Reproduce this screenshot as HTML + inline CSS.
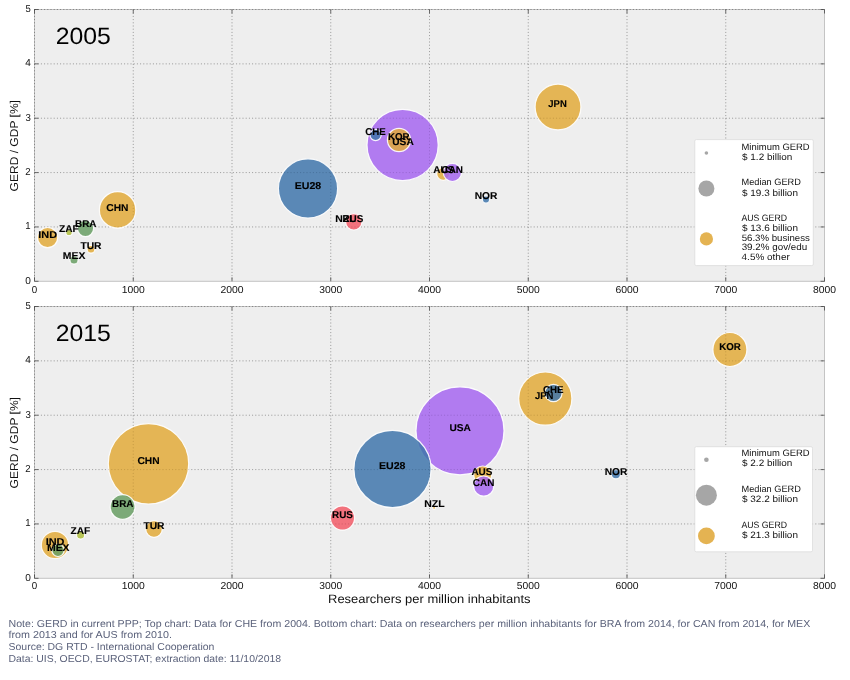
<!DOCTYPE html>
<html>
<head>
<meta charset="utf-8">
<title>GERD / GDP vs Researchers per million inhabitants</title>
<style>
html,body{margin:0;padding:0;background:#ffffff;}
body{width:850px;height:680px;overflow:hidden;font-family:"Liberation Sans",sans-serif;}
svg{display:block;will-change:transform;}
text{font-family:"Liberation Sans",sans-serif;text-rendering:geometricPrecision;}
.tick{fill:#111;}
.lbl{font-weight:bold;fill:#000;stroke:#000;stroke-width:0.12;}
.leg{fill:#111;}
.year{fill:#000;}
.axl{fill:#111;}
.note{fill:#5b627b;}
.grid{stroke:#000;stroke-opacity:0.36;stroke-width:0.8;stroke-dasharray:1 2.2;fill:none;}
.grid2{stroke:#000;stroke-opacity:0.12;stroke-width:0.8;stroke-dasharray:1 2.2;fill:none;}
.spine{stroke:#c4c4c4;stroke-width:1;fill:none;}
.tk{stroke:#333;stroke-width:0.7;fill:none;}
</style>
</head>
<body>
<svg width="850" height="680" viewBox="0 0 850 680">
<rect x="0" y="0" width="850" height="680" fill="#ffffff"/>

<rect x="34.5" y="9.5" width="790.0" height="271.80" fill="#eeeeee"/>
<rect class="spine" x="34.5" y="9.5" width="790.0" height="271.80"/>
<line class="grid" x1="34.50" y1="9.5" x2="34.50" y2="281.3"/>
<line class="grid" x1="133.25" y1="9.5" x2="133.25" y2="281.3"/>
<line class="grid" x1="232.00" y1="9.5" x2="232.00" y2="281.3"/>
<line class="grid" x1="330.75" y1="9.5" x2="330.75" y2="281.3"/>
<line class="grid" x1="429.50" y1="9.5" x2="429.50" y2="281.3"/>
<line class="grid" x1="528.25" y1="9.5" x2="528.25" y2="281.3"/>
<line class="grid" x1="627.00" y1="9.5" x2="627.00" y2="281.3"/>
<line class="grid" x1="725.75" y1="9.5" x2="725.75" y2="281.3"/>
<line class="grid" x1="34.5" y1="226.94" x2="824.5" y2="226.94"/>
<line class="grid" x1="34.5" y1="172.58" x2="824.5" y2="172.58"/>
<line class="grid" x1="34.5" y1="118.22" x2="824.5" y2="118.22"/>
<line class="grid" x1="34.5" y1="63.86" x2="824.5" y2="63.86"/>
<line class="grid" x1="34.5" y1="9.50" x2="824.5" y2="9.50"/>
<circle cx="402.6" cy="145.0" r="35.60" fill="#A666F0" fill-opacity="0.85" stroke="#ffffff" stroke-opacity="0.9" stroke-width="1.2"/>
<circle cx="558.0" cy="107.0" r="22.90" fill="#E2AA3A" fill-opacity="0.85" stroke="#ffffff" stroke-opacity="0.9" stroke-width="1.2"/>
<circle cx="308.0" cy="188.4" r="29.60" fill="#4076AB" fill-opacity="0.85" stroke="#ffffff" stroke-opacity="0.9" stroke-width="1.2"/>
<circle cx="117.6" cy="209.9" r="18.20" fill="#E2AA3A" fill-opacity="0.85" stroke="#ffffff" stroke-opacity="0.9" stroke-width="1.2"/>
<circle cx="399.0" cy="140.0" r="11.60" fill="#E2AA3A" fill-opacity="0.85" stroke="#ffffff" stroke-opacity="0.9" stroke-width="1.2"/>
<circle cx="47.6" cy="237.6" r="10.10" fill="#E2AA3A" fill-opacity="0.85" stroke="#ffffff" stroke-opacity="0.9" stroke-width="1.2"/>
<circle cx="443.2" cy="173.8" r="6.50" fill="#E2AA3A" fill-opacity="0.85" stroke="#ffffff" stroke-opacity="0.9" stroke-width="1.2"/>
<circle cx="452.4" cy="172.4" r="9.10" fill="#A666F0" fill-opacity="0.85" stroke="#ffffff" stroke-opacity="0.9" stroke-width="1.2"/>
<circle cx="85.5" cy="228.5" r="8.10" fill="#679E63" fill-opacity="0.85" stroke="#ffffff" stroke-opacity="0.9" stroke-width="1.2"/>
<circle cx="353.8" cy="221.8" r="8.20" fill="#F25C68" fill-opacity="0.85" stroke="#ffffff" stroke-opacity="0.9" stroke-width="1.2"/>
<circle cx="375.6" cy="135.0" r="5.60" fill="#4076AB" fill-opacity="0.85" stroke="#ffffff" stroke-opacity="0.9" stroke-width="1.2"/>
<circle cx="74.0" cy="260.0" r="4.10" fill="#679E63" fill-opacity="0.85" stroke="#ffffff" stroke-opacity="0.9" stroke-width="1.2"/>
<circle cx="91.0" cy="249.2" r="3.90" fill="#E2AA3A" fill-opacity="0.85" stroke="#ffffff" stroke-opacity="0.9" stroke-width="1.2"/>
<circle cx="69.0" cy="232.5" r="3.20" fill="#AEBD3C" fill-opacity="0.85" stroke="#ffffff" stroke-opacity="0.9" stroke-width="1.2"/>
<circle cx="486.0" cy="199.6" r="3.60" fill="#4076AB" fill-opacity="0.85" stroke="#ffffff" stroke-opacity="0.9" stroke-width="1.2"/>
<circle cx="345.4" cy="219.5" r="1.60" fill="#E2AA3A" fill-opacity="0.85" stroke="#ffffff" stroke-opacity="0.9" stroke-width="1.2"/>
<line class="grid2" x1="34.50" y1="9.5" x2="34.50" y2="281.3"/>
<line class="grid2" x1="133.25" y1="9.5" x2="133.25" y2="281.3"/>
<line class="grid2" x1="232.00" y1="9.5" x2="232.00" y2="281.3"/>
<line class="grid2" x1="330.75" y1="9.5" x2="330.75" y2="281.3"/>
<line class="grid2" x1="429.50" y1="9.5" x2="429.50" y2="281.3"/>
<line class="grid2" x1="528.25" y1="9.5" x2="528.25" y2="281.3"/>
<line class="grid2" x1="627.00" y1="9.5" x2="627.00" y2="281.3"/>
<line class="grid2" x1="725.75" y1="9.5" x2="725.75" y2="281.3"/>
<line class="grid2" x1="34.5" y1="226.94" x2="824.5" y2="226.94"/>
<line class="grid2" x1="34.5" y1="172.58" x2="824.5" y2="172.58"/>
<line class="grid2" x1="34.5" y1="118.22" x2="824.5" y2="118.22"/>
<line class="grid2" x1="34.5" y1="63.86" x2="824.5" y2="63.86"/>
<line class="grid2" x1="34.5" y1="9.50" x2="824.5" y2="9.50"/>
<line class="tk" x1="34.50" y1="281.3" x2="34.50" y2="277.3"/>
<line class="tk" x1="34.50" y1="9.5" x2="34.50" y2="13.5"/>
<text class="tick" x="34.50" y="292.60" font-size="10.09" text-anchor="middle" textLength="5.45" lengthAdjust="spacingAndGlyphs">0</text>
<line class="tk" x1="133.25" y1="281.3" x2="133.25" y2="277.3"/>
<line class="tk" x1="133.25" y1="9.5" x2="133.25" y2="13.5"/>
<text class="tick" x="133.28" y="292.60" font-size="10.09" text-anchor="middle" textLength="23.03" lengthAdjust="spacingAndGlyphs">1000</text>
<line class="tk" x1="232.00" y1="281.3" x2="232.00" y2="277.3"/>
<line class="tk" x1="232.00" y1="9.5" x2="232.00" y2="13.5"/>
<text class="tick" x="231.99" y="292.60" font-size="10.09" text-anchor="middle" textLength="23.09" lengthAdjust="spacingAndGlyphs">2000</text>
<line class="tk" x1="330.75" y1="281.3" x2="330.75" y2="277.3"/>
<line class="tk" x1="330.75" y1="9.5" x2="330.75" y2="13.5"/>
<text class="tick" x="330.80" y="292.60" font-size="10.09" text-anchor="middle" textLength="22.99" lengthAdjust="spacingAndGlyphs">3000</text>
<line class="tk" x1="429.50" y1="281.3" x2="429.50" y2="277.3"/>
<line class="tk" x1="429.50" y1="9.5" x2="429.50" y2="13.5"/>
<text class="tick" x="429.50" y="292.60" font-size="10.09" text-anchor="middle" textLength="23.06" lengthAdjust="spacingAndGlyphs">4000</text>
<line class="tk" x1="528.25" y1="281.3" x2="528.25" y2="277.3"/>
<line class="tk" x1="528.25" y1="9.5" x2="528.25" y2="13.5"/>
<text class="tick" x="528.30" y="292.60" font-size="10.09" text-anchor="middle" textLength="22.99" lengthAdjust="spacingAndGlyphs">5000</text>
<line class="tk" x1="627.00" y1="281.3" x2="627.00" y2="277.3"/>
<line class="tk" x1="627.00" y1="9.5" x2="627.00" y2="13.5"/>
<text class="tick" x="626.97" y="292.60" font-size="10.09" text-anchor="middle" textLength="23.14" lengthAdjust="spacingAndGlyphs">6000</text>
<line class="tk" x1="725.75" y1="281.3" x2="725.75" y2="277.3"/>
<line class="tk" x1="725.75" y1="9.5" x2="725.75" y2="13.5"/>
<text class="tick" x="725.77" y="292.60" font-size="10.09" text-anchor="middle" textLength="23.05" lengthAdjust="spacingAndGlyphs">7000</text>
<line class="tk" x1="824.50" y1="281.3" x2="824.50" y2="277.3"/>
<line class="tk" x1="824.50" y1="9.5" x2="824.50" y2="13.5"/>
<text class="tick" x="824.50" y="292.60" font-size="10.09" text-anchor="middle" textLength="23.09" lengthAdjust="spacingAndGlyphs">8000</text>
<line class="tk" x1="34.5" y1="281.30" x2="38.5" y2="281.30"/>
<line class="tk" x1="824.5" y1="281.30" x2="820.5" y2="281.30"/>
<text class="tick" x="30.89" y="283.70" font-size="10.09" text-anchor="end" textLength="5.62" lengthAdjust="spacingAndGlyphs">0</text>
<line class="tk" x1="34.5" y1="226.94" x2="38.5" y2="226.94"/>
<line class="tk" x1="824.5" y1="226.94" x2="820.5" y2="226.94"/>
<text class="tick" x="30.72" y="229.34" font-size="10.09" text-anchor="end" textLength="5.35" lengthAdjust="spacingAndGlyphs">1</text>
<line class="tk" x1="34.5" y1="172.58" x2="38.5" y2="172.58"/>
<line class="tk" x1="824.5" y1="172.58" x2="820.5" y2="172.58"/>
<text class="tick" x="30.63" y="174.98" font-size="10.09" text-anchor="end" textLength="5.34" lengthAdjust="spacingAndGlyphs">2</text>
<line class="tk" x1="34.5" y1="118.22" x2="38.5" y2="118.22"/>
<line class="tk" x1="824.5" y1="118.22" x2="820.5" y2="118.22"/>
<text class="tick" x="30.78" y="120.62" font-size="10.09" text-anchor="end" textLength="5.40" lengthAdjust="spacingAndGlyphs">3</text>
<line class="tk" x1="34.5" y1="63.86" x2="38.5" y2="63.86"/>
<line class="tk" x1="824.5" y1="63.86" x2="820.5" y2="63.86"/>
<text class="tick" x="30.88" y="66.26" font-size="10.09" text-anchor="end" textLength="5.60" lengthAdjust="spacingAndGlyphs">4</text>
<line class="tk" x1="34.5" y1="9.50" x2="38.5" y2="9.50"/>
<line class="tk" x1="824.5" y1="9.50" x2="820.5" y2="9.50"/>
<text class="tick" x="30.67" y="11.90" font-size="10.09" text-anchor="end" textLength="5.28" lengthAdjust="spacingAndGlyphs">5</text>
<g transform="translate(18.0 145.70) rotate(-90)">
<text class="axl" x="-0.03" y="0.00" font-size="11.37" text-anchor="middle" textLength="91.32" lengthAdjust="spacingAndGlyphs">GERD / GDP [%]</text>
</g>
<text class="year" x="55.73" y="43.90" font-size="23.58" textLength="55.17" lengthAdjust="spacingAndGlyphs">2005</text>
<text class="lbl" x="403.02" y="145.00" font-size="9.88" text-anchor="middle" textLength="21.43" lengthAdjust="spacingAndGlyphs">USA</text>
<text class="lbl" x="557.56" y="107.00" font-size="9.88" text-anchor="middle" textLength="18.48" lengthAdjust="spacingAndGlyphs">JPN</text>
<text class="lbl" x="307.95" y="188.60" font-size="9.88" text-anchor="middle" textLength="26.46" lengthAdjust="spacingAndGlyphs">EU28</text>
<text class="lbl" x="117.44" y="210.60" font-size="9.88" text-anchor="middle" textLength="22.15" lengthAdjust="spacingAndGlyphs">CHN</text>
<text class="lbl" x="398.72" y="140.00" font-size="9.88" text-anchor="middle" textLength="21.68" lengthAdjust="spacingAndGlyphs">KOR</text>
<text class="lbl" x="47.67" y="238.00" font-size="9.88" text-anchor="middle" textLength="18.84" lengthAdjust="spacingAndGlyphs">IND</text>
<text class="lbl" x="443.73" y="172.60" font-size="9.88" text-anchor="middle" textLength="21.02" lengthAdjust="spacingAndGlyphs">AUS</text>
<text class="lbl" x="452.25" y="172.60" font-size="9.88" text-anchor="middle" textLength="21.57" lengthAdjust="spacingAndGlyphs">CAN</text>
<text class="lbl" x="85.80" y="226.80" font-size="9.88" text-anchor="middle" textLength="21.46" lengthAdjust="spacingAndGlyphs">BRA</text>
<text class="lbl" x="352.92" y="221.60" font-size="9.88" text-anchor="middle" textLength="20.86" lengthAdjust="spacingAndGlyphs">RUS</text>
<text class="lbl" x="375.47" y="134.60" font-size="9.88" text-anchor="middle" textLength="20.55" lengthAdjust="spacingAndGlyphs">CHE</text>
<text class="lbl" x="74.05" y="259.40" font-size="9.88" text-anchor="middle" textLength="22.56" lengthAdjust="spacingAndGlyphs">MEX</text>
<text class="lbl" x="90.99" y="248.60" font-size="9.88" text-anchor="middle" textLength="21.14" lengthAdjust="spacingAndGlyphs">TUR</text>
<text class="lbl" x="68.85" y="232.00" font-size="9.88" text-anchor="middle" textLength="19.76" lengthAdjust="spacingAndGlyphs">ZAF</text>
<text class="lbl" x="486.10" y="199.20" font-size="9.88" text-anchor="middle" textLength="22.70" lengthAdjust="spacingAndGlyphs">NOR</text>
<text class="lbl" x="345.49" y="221.60" font-size="9.88" text-anchor="middle" textLength="20.33" lengthAdjust="spacingAndGlyphs">NZL</text>
<rect x="694.8" y="139.6" width="118.50" height="126.00" rx="1.5" ry="1.5" fill="#ffffff" stroke="#d8d8d8" stroke-width="0.7"/>
<circle cx="706.4" cy="153" r="1.8" fill="#a6a6a6"/>
<circle cx="706.4" cy="188.5" r="8" fill="#a6a6a6"/>
<circle cx="706.4" cy="238.9" r="6.6" fill="#E4B352"/>
<text class="leg" x="741.52" y="149.60" font-size="9.27" textLength="68.12" lengthAdjust="spacingAndGlyphs">Minimum GERD</text>
<text class="leg" x="742.04" y="159.70" font-size="9.27" textLength="50.37" lengthAdjust="spacingAndGlyphs">$ 1.2 billion</text>
<text class="leg" x="741.54" y="185.40" font-size="9.27" textLength="59.35" lengthAdjust="spacingAndGlyphs">Median GERD</text>
<text class="leg" x="742.04" y="195.60" font-size="9.27" textLength="55.92" lengthAdjust="spacingAndGlyphs">$ 19.3 billion</text>
<text class="leg" x="741.44" y="221.20" font-size="9.27" textLength="45.60" lengthAdjust="spacingAndGlyphs">AUS GERD</text>
<text class="leg" x="742.04" y="231.10" font-size="9.27" textLength="55.92" lengthAdjust="spacingAndGlyphs">$ 13.6 billion</text>
<text class="leg" x="741.67" y="240.80" font-size="9.27" textLength="68.16" lengthAdjust="spacingAndGlyphs">56.3% business</text>
<text class="leg" x="741.66" y="250.40" font-size="9.27" textLength="65.57" lengthAdjust="spacingAndGlyphs">39.2% gov/edu</text>
<text class="leg" x="741.59" y="259.80" font-size="9.27" textLength="48.17" lengthAdjust="spacingAndGlyphs">4.5% other</text>
<rect x="34.5" y="306.5" width="790.0" height="271.80" fill="#eeeeee"/>
<rect class="spine" x="34.5" y="306.5" width="790.0" height="271.80"/>
<line class="grid" x1="34.50" y1="306.5" x2="34.50" y2="578.3"/>
<line class="grid" x1="133.25" y1="306.5" x2="133.25" y2="578.3"/>
<line class="grid" x1="232.00" y1="306.5" x2="232.00" y2="578.3"/>
<line class="grid" x1="330.75" y1="306.5" x2="330.75" y2="578.3"/>
<line class="grid" x1="429.50" y1="306.5" x2="429.50" y2="578.3"/>
<line class="grid" x1="528.25" y1="306.5" x2="528.25" y2="578.3"/>
<line class="grid" x1="627.00" y1="306.5" x2="627.00" y2="578.3"/>
<line class="grid" x1="725.75" y1="306.5" x2="725.75" y2="578.3"/>
<line class="grid" x1="34.5" y1="523.94" x2="824.5" y2="523.94"/>
<line class="grid" x1="34.5" y1="469.58" x2="824.5" y2="469.58"/>
<line class="grid" x1="34.5" y1="415.22" x2="824.5" y2="415.22"/>
<line class="grid" x1="34.5" y1="360.86" x2="824.5" y2="360.86"/>
<line class="grid" x1="34.5" y1="306.50" x2="824.5" y2="306.50"/>
<circle cx="460.0" cy="430.8" r="44.00" fill="#A666F0" fill-opacity="0.85" stroke="#ffffff" stroke-opacity="0.9" stroke-width="1.2"/>
<circle cx="148.5" cy="463.8" r="40.20" fill="#E2AA3A" fill-opacity="0.85" stroke="#ffffff" stroke-opacity="0.9" stroke-width="1.2"/>
<circle cx="392.5" cy="469.0" r="38.60" fill="#4076AB" fill-opacity="0.85" stroke="#ffffff" stroke-opacity="0.9" stroke-width="1.2"/>
<circle cx="545.3" cy="398.6" r="26.60" fill="#E2AA3A" fill-opacity="0.85" stroke="#ffffff" stroke-opacity="0.9" stroke-width="1.2"/>
<circle cx="729.9" cy="349.5" r="17.00" fill="#E2AA3A" fill-opacity="0.85" stroke="#ffffff" stroke-opacity="0.9" stroke-width="1.2"/>
<circle cx="55.0" cy="545.0" r="13.70" fill="#E2AA3A" fill-opacity="0.85" stroke="#ffffff" stroke-opacity="0.9" stroke-width="1.2"/>
<circle cx="122.6" cy="507.0" r="12.40" fill="#679E63" fill-opacity="0.85" stroke="#ffffff" stroke-opacity="0.9" stroke-width="1.2"/>
<circle cx="342.5" cy="518.0" r="12.10" fill="#F25C68" fill-opacity="0.85" stroke="#ffffff" stroke-opacity="0.9" stroke-width="1.2"/>
<circle cx="482.7" cy="475.0" r="9.00" fill="#E2AA3A" fill-opacity="0.85" stroke="#ffffff" stroke-opacity="0.9" stroke-width="1.2"/>
<circle cx="483.7" cy="486.1" r="10.10" fill="#A666F0" fill-opacity="0.85" stroke="#ffffff" stroke-opacity="0.9" stroke-width="1.2"/>
<circle cx="553.5" cy="393.0" r="8.60" fill="#4076AB" fill-opacity="0.85" stroke="#ffffff" stroke-opacity="0.9" stroke-width="1.2"/>
<circle cx="154.0" cy="529.0" r="8.30" fill="#E2AA3A" fill-opacity="0.85" stroke="#ffffff" stroke-opacity="0.9" stroke-width="1.2"/>
<circle cx="58.0" cy="550.3" r="6.20" fill="#679E63" fill-opacity="0.85" stroke="#ffffff" stroke-opacity="0.9" stroke-width="1.2"/>
<circle cx="80.6" cy="535.0" r="4.10" fill="#AEBD3C" fill-opacity="0.85" stroke="#ffffff" stroke-opacity="0.9" stroke-width="1.2"/>
<circle cx="615.9" cy="474.2" r="4.60" fill="#4076AB" fill-opacity="0.85" stroke="#ffffff" stroke-opacity="0.9" stroke-width="1.2"/>
<circle cx="434.1" cy="507.8" r="1.50" fill="#E2AA3A" fill-opacity="0.85" stroke="#ffffff" stroke-opacity="0.9" stroke-width="1.2"/>
<line class="grid2" x1="34.50" y1="306.5" x2="34.50" y2="578.3"/>
<line class="grid2" x1="133.25" y1="306.5" x2="133.25" y2="578.3"/>
<line class="grid2" x1="232.00" y1="306.5" x2="232.00" y2="578.3"/>
<line class="grid2" x1="330.75" y1="306.5" x2="330.75" y2="578.3"/>
<line class="grid2" x1="429.50" y1="306.5" x2="429.50" y2="578.3"/>
<line class="grid2" x1="528.25" y1="306.5" x2="528.25" y2="578.3"/>
<line class="grid2" x1="627.00" y1="306.5" x2="627.00" y2="578.3"/>
<line class="grid2" x1="725.75" y1="306.5" x2="725.75" y2="578.3"/>
<line class="grid2" x1="34.5" y1="523.94" x2="824.5" y2="523.94"/>
<line class="grid2" x1="34.5" y1="469.58" x2="824.5" y2="469.58"/>
<line class="grid2" x1="34.5" y1="415.22" x2="824.5" y2="415.22"/>
<line class="grid2" x1="34.5" y1="360.86" x2="824.5" y2="360.86"/>
<line class="grid2" x1="34.5" y1="306.50" x2="824.5" y2="306.50"/>
<line class="tk" x1="34.50" y1="578.3" x2="34.50" y2="574.3"/>
<line class="tk" x1="34.50" y1="306.5" x2="34.50" y2="310.5"/>
<text class="tick" x="34.50" y="589.30" font-size="10.09" text-anchor="middle" textLength="5.45" lengthAdjust="spacingAndGlyphs">0</text>
<line class="tk" x1="133.25" y1="578.3" x2="133.25" y2="574.3"/>
<line class="tk" x1="133.25" y1="306.5" x2="133.25" y2="310.5"/>
<text class="tick" x="133.28" y="589.30" font-size="10.09" text-anchor="middle" textLength="23.03" lengthAdjust="spacingAndGlyphs">1000</text>
<line class="tk" x1="232.00" y1="578.3" x2="232.00" y2="574.3"/>
<line class="tk" x1="232.00" y1="306.5" x2="232.00" y2="310.5"/>
<text class="tick" x="231.99" y="589.30" font-size="10.09" text-anchor="middle" textLength="23.09" lengthAdjust="spacingAndGlyphs">2000</text>
<line class="tk" x1="330.75" y1="578.3" x2="330.75" y2="574.3"/>
<line class="tk" x1="330.75" y1="306.5" x2="330.75" y2="310.5"/>
<text class="tick" x="330.80" y="589.30" font-size="10.09" text-anchor="middle" textLength="22.99" lengthAdjust="spacingAndGlyphs">3000</text>
<line class="tk" x1="429.50" y1="578.3" x2="429.50" y2="574.3"/>
<line class="tk" x1="429.50" y1="306.5" x2="429.50" y2="310.5"/>
<text class="tick" x="429.50" y="589.30" font-size="10.09" text-anchor="middle" textLength="23.06" lengthAdjust="spacingAndGlyphs">4000</text>
<line class="tk" x1="528.25" y1="578.3" x2="528.25" y2="574.3"/>
<line class="tk" x1="528.25" y1="306.5" x2="528.25" y2="310.5"/>
<text class="tick" x="528.30" y="589.30" font-size="10.09" text-anchor="middle" textLength="22.99" lengthAdjust="spacingAndGlyphs">5000</text>
<line class="tk" x1="627.00" y1="578.3" x2="627.00" y2="574.3"/>
<line class="tk" x1="627.00" y1="306.5" x2="627.00" y2="310.5"/>
<text class="tick" x="626.97" y="589.30" font-size="10.09" text-anchor="middle" textLength="23.14" lengthAdjust="spacingAndGlyphs">6000</text>
<line class="tk" x1="725.75" y1="578.3" x2="725.75" y2="574.3"/>
<line class="tk" x1="725.75" y1="306.5" x2="725.75" y2="310.5"/>
<text class="tick" x="725.77" y="589.30" font-size="10.09" text-anchor="middle" textLength="23.05" lengthAdjust="spacingAndGlyphs">7000</text>
<line class="tk" x1="824.50" y1="578.3" x2="824.50" y2="574.3"/>
<line class="tk" x1="824.50" y1="306.5" x2="824.50" y2="310.5"/>
<text class="tick" x="824.50" y="589.30" font-size="10.09" text-anchor="middle" textLength="23.09" lengthAdjust="spacingAndGlyphs">8000</text>
<line class="tk" x1="34.5" y1="578.30" x2="38.5" y2="578.30"/>
<line class="tk" x1="824.5" y1="578.30" x2="820.5" y2="578.30"/>
<text class="tick" x="30.89" y="580.70" font-size="10.09" text-anchor="end" textLength="5.62" lengthAdjust="spacingAndGlyphs">0</text>
<line class="tk" x1="34.5" y1="523.94" x2="38.5" y2="523.94"/>
<line class="tk" x1="824.5" y1="523.94" x2="820.5" y2="523.94"/>
<text class="tick" x="30.72" y="526.34" font-size="10.09" text-anchor="end" textLength="5.35" lengthAdjust="spacingAndGlyphs">1</text>
<line class="tk" x1="34.5" y1="469.58" x2="38.5" y2="469.58"/>
<line class="tk" x1="824.5" y1="469.58" x2="820.5" y2="469.58"/>
<text class="tick" x="30.63" y="471.98" font-size="10.09" text-anchor="end" textLength="5.34" lengthAdjust="spacingAndGlyphs">2</text>
<line class="tk" x1="34.5" y1="415.22" x2="38.5" y2="415.22"/>
<line class="tk" x1="824.5" y1="415.22" x2="820.5" y2="415.22"/>
<text class="tick" x="30.78" y="417.62" font-size="10.09" text-anchor="end" textLength="5.40" lengthAdjust="spacingAndGlyphs">3</text>
<line class="tk" x1="34.5" y1="360.86" x2="38.5" y2="360.86"/>
<line class="tk" x1="824.5" y1="360.86" x2="820.5" y2="360.86"/>
<text class="tick" x="30.88" y="363.26" font-size="10.09" text-anchor="end" textLength="5.60" lengthAdjust="spacingAndGlyphs">4</text>
<line class="tk" x1="34.5" y1="306.50" x2="38.5" y2="306.50"/>
<line class="tk" x1="824.5" y1="306.50" x2="820.5" y2="306.50"/>
<text class="tick" x="30.67" y="308.90" font-size="10.09" text-anchor="end" textLength="5.28" lengthAdjust="spacingAndGlyphs">5</text>
<g transform="translate(18.0 442.70) rotate(-90)">
<text class="axl" x="-0.03" y="0.00" font-size="11.37" text-anchor="middle" textLength="91.32" lengthAdjust="spacingAndGlyphs">GERD / GDP [%]</text>
</g>
<text class="year" x="55.73" y="340.90" font-size="23.58" textLength="55.17" lengthAdjust="spacingAndGlyphs">2015</text>
<text class="lbl" x="460.22" y="431.00" font-size="9.88" text-anchor="middle" textLength="21.43" lengthAdjust="spacingAndGlyphs">USA</text>
<text class="lbl" x="148.54" y="463.80" font-size="9.88" text-anchor="middle" textLength="22.15" lengthAdjust="spacingAndGlyphs">CHN</text>
<text class="lbl" x="392.25" y="469.30" font-size="9.88" text-anchor="middle" textLength="26.46" lengthAdjust="spacingAndGlyphs">EU28</text>
<text class="lbl" x="544.16" y="399.00" font-size="9.88" text-anchor="middle" textLength="18.48" lengthAdjust="spacingAndGlyphs">JPN</text>
<text class="lbl" x="730.02" y="349.50" font-size="9.88" text-anchor="middle" textLength="21.68" lengthAdjust="spacingAndGlyphs">KOR</text>
<text class="lbl" x="55.07" y="545.30" font-size="9.88" text-anchor="middle" textLength="18.84" lengthAdjust="spacingAndGlyphs">IND</text>
<text class="lbl" x="122.80" y="507.00" font-size="9.88" text-anchor="middle" textLength="21.46" lengthAdjust="spacingAndGlyphs">BRA</text>
<text class="lbl" x="342.52" y="517.80" font-size="9.88" text-anchor="middle" textLength="20.86" lengthAdjust="spacingAndGlyphs">RUS</text>
<text class="lbl" x="481.93" y="475.00" font-size="9.88" text-anchor="middle" textLength="21.02" lengthAdjust="spacingAndGlyphs">AUS</text>
<text class="lbl" x="483.65" y="485.60" font-size="9.88" text-anchor="middle" textLength="21.57" lengthAdjust="spacingAndGlyphs">CAN</text>
<text class="lbl" x="553.27" y="393.00" font-size="9.88" text-anchor="middle" textLength="20.55" lengthAdjust="spacingAndGlyphs">CHE</text>
<text class="lbl" x="153.99" y="528.60" font-size="9.88" text-anchor="middle" textLength="21.14" lengthAdjust="spacingAndGlyphs">TUR</text>
<text class="lbl" x="58.25" y="551.20" font-size="9.88" text-anchor="middle" textLength="22.56" lengthAdjust="spacingAndGlyphs">MEX</text>
<text class="lbl" x="80.45" y="534.20" font-size="9.88" text-anchor="middle" textLength="19.76" lengthAdjust="spacingAndGlyphs">ZAF</text>
<text class="lbl" x="616.00" y="474.60" font-size="9.88" text-anchor="middle" textLength="22.70" lengthAdjust="spacingAndGlyphs">NOR</text>
<text class="lbl" x="434.39" y="507.20" font-size="9.88" text-anchor="middle" textLength="20.33" lengthAdjust="spacingAndGlyphs">NZL</text>
<rect x="694.8" y="446.7" width="117.70" height="105.10" rx="1.5" ry="1.5" fill="#ffffff" stroke="#d8d8d8" stroke-width="0.7"/>
<circle cx="706.4" cy="459.8" r="2.3" fill="#a6a6a6"/>
<circle cx="706.4" cy="495.2" r="10.5" fill="#a6a6a6"/>
<circle cx="706.4" cy="535.9" r="8.4" fill="#E4B352"/>
<text class="leg" x="741.52" y="456.20" font-size="9.27" textLength="68.12" lengthAdjust="spacingAndGlyphs">Minimum GERD</text>
<text class="leg" x="742.04" y="466.30" font-size="9.27" textLength="50.37" lengthAdjust="spacingAndGlyphs">$ 2.2 billion</text>
<text class="leg" x="741.54" y="491.80" font-size="9.27" textLength="59.35" lengthAdjust="spacingAndGlyphs">Median GERD</text>
<text class="leg" x="742.04" y="502.00" font-size="9.27" textLength="55.92" lengthAdjust="spacingAndGlyphs">$ 32.2 billion</text>
<text class="leg" x="741.44" y="527.50" font-size="9.27" textLength="45.60" lengthAdjust="spacingAndGlyphs">AUS GERD</text>
<text class="leg" x="742.04" y="537.70" font-size="9.27" textLength="55.92" lengthAdjust="spacingAndGlyphs">$ 21.3 billion</text>
<text class="axl" x="429.27" y="603.20" font-size="12.16" text-anchor="middle" textLength="202.43" lengthAdjust="spacingAndGlyphs">Researchers per million inhabitants</text>
<text class="note" x="8.50" y="626.70" font-size="10.06" textLength="801.75" lengthAdjust="spacingAndGlyphs">Note: GERD in current PPP; Top chart: Data for CHE from 2004. Bottom chart: Data on researchers per million inhabitants for BRA from 2014, for CAN from 2014, for MEX</text>
<text class="note" x="8.48" y="638.10" font-size="10.06" textLength="163.50" lengthAdjust="spacingAndGlyphs">from 2013 and for AUS from 2010.</text>
<text class="note" x="8.54" y="650.00" font-size="10.06" textLength="205.88" lengthAdjust="spacingAndGlyphs">Source: DG RTD - International Cooperation</text>
<text class="note" x="8.51" y="661.50" font-size="10.06" textLength="272.55" lengthAdjust="spacingAndGlyphs">Data: UIS, OECD, EUROSTAT; extraction date: 11/10/2018</text>
</svg>
</body>
</html>
